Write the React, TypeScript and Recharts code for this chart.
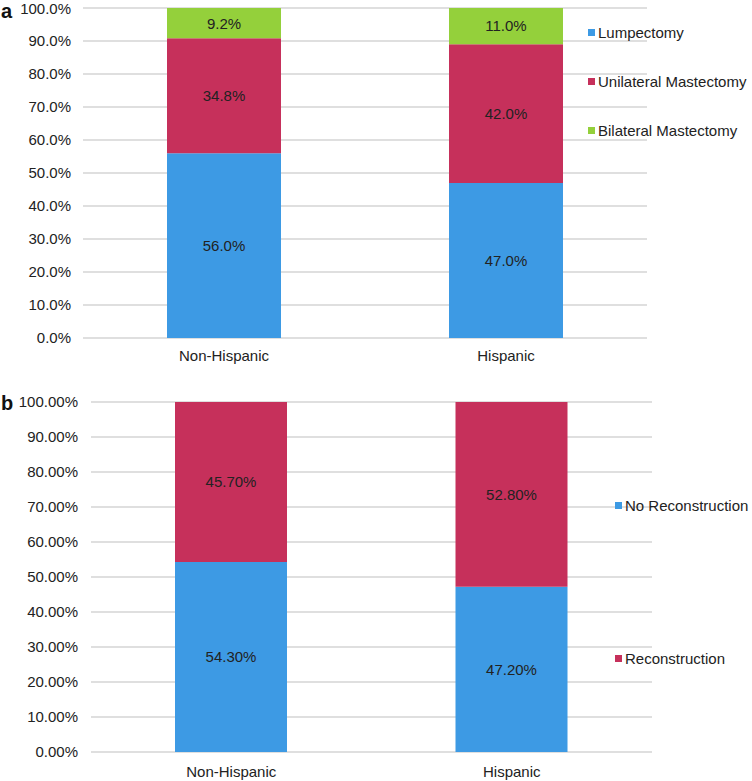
import { Bar, BarChart, CartesianGrid, LabelList, Legend, XAxis, YAxis } from "recharts";

const FONT = "'Liberation Sans', Arial, Helvetica, sans-serif";
const TEXT = "#222222";
const GRID = "#d4d4d4";

const BLUE = "#3d9ae4";
const CRIMSON = "#c6305b";
const GREEN = "#94d03b";

// panel a: surgery type
const groups = ["Non-Hispanic", "Hispanic"];
const lumpectomy = [56.0, 47.0];
const unilateral = [34.8, 42.0];
const bilateral = [9.2, 11.0];

// panel b: reconstruction
const noReconstruction = [54.3, 47.2];
const reconstruction = [45.7, 52.8];

const pctTicks = [0, 10, 20, 30, 40, 50, 60, 70, 80, 90, 100];

const seriesA = [
  { key: "lumpectomy", name: "Lumpectomy", color: BLUE },
  { key: "unilateral", name: "Unilateral Mastectomy", color: CRIMSON },
  { key: "bilateral", name: "Bilateral Mastectomy", color: GREEN },
];
const seriesB = [
  { key: "noRecon", name: "No Reconstruction", color: BLUE },
  { key: "recon", name: "Reconstruction", color: CRIMSON },
];

const dataA = groups.map((g, i) => ({
  group: g,
  lumpectomy: lumpectomy[i],
  unilateral: unilateral[i],
  bilateral: bilateral[i],
}));
const dataB = groups.map((g, i) => ({
  group: g,
  noRecon: noReconstruction[i],
  recon: reconstruction[i],
}));

type Item = { key: string; name: string; color: string };

function SideLegend({ items, gap }: { items: Item[]; gap: number }) {
  return (
    <div style={{ display: "flex", flexDirection: "column", rowGap: gap, fontFamily: FONT }}>
      {items.map((it) => (
        <div
          key={it.key}
          style={{ display: "flex", alignItems: "center", height: 18, fontSize: 15, color: TEXT, whiteSpace: "nowrap" }}
        >
          <span style={{ display: "inline-block", width: 7, height: 7, background: it.color, marginRight: 3 }} />
          {it.name}
        </div>
      ))}
    </div>
  );
}

function PanelLetter({ letter, top }: { letter: string; top: number }) {
  return (
    <div
      style={{
        position: "absolute",
        left: 1,
        top,
        fontFamily: FONT,
        fontWeight: "bold",
        fontSize: 20,
        lineHeight: "normal",
        color: "#111",
      }}
    >
      {letter}
    </div>
  );
}

const tickStyle = { fontSize: 15, fill: TEXT, fontFamily: FONT };

export default function App() {
  return (
    <div style={{ position: "absolute", left: 0, top: 0, width: 752, height: 781, background: "#fff" }}>
      <div style={{ position: "absolute", left: 0, top: 0 }}>
        <BarChart
          width={752}
          height={380}
          data={dataA}
          margin={{ top: 8, right: 105, left: 0, bottom: 0 }}
        >
          <CartesianGrid stroke={GRID} strokeWidth={1.6} vertical={false} />
          <XAxis
            dataKey="group"
            height={42}
            tickLine={false}
            axisLine={false}
            tickSize={0}
            tickMargin={12}
            tick={tickStyle}
          />
          <YAxis
            width={83}
            domain={[0, 100]}
            ticks={pctTicks}
            tickLine={false}
            axisLine={false}
            tickSize={0}
            tickMargin={12}
            tick={tickStyle}
            tickFormatter={(v: number) => `${v.toFixed(1)}%`}
          />
          {seriesA.map((s) => (
            <Bar key={s.key} dataKey={s.key} name={s.name} stackId="a" fill={s.color} barSize={114} isAnimationActive={false}>
              <LabelList
                dataKey={s.key}
                position="center"
                fill={TEXT}
                fontSize={15}
                fontFamily={FONT}
                formatter={(v: any) => `${Number(v).toFixed(1)}%`}
              />
            </Bar>
          ))}
          <Legend
            layout="vertical"
            align="center"
            verticalAlign="middle"
            wrapperStyle={{ left: 588, top: 23, width: "auto" }}
            content={() => <SideLegend items={seriesA} gap={31} />}
          />
        </BarChart>
      </div>

      <div style={{ position: "absolute", left: 0, top: 380 }}>
        <BarChart
          width={752}
          height={401}
          data={dataB}
          margin={{ top: 22, right: 100, left: 0, bottom: 0 }}
        >
          <CartesianGrid stroke={GRID} strokeWidth={1.6} vertical={false} />
          <XAxis
            dataKey="group"
            height={29}
            tickLine={false}
            axisLine={false}
            tickSize={0}
            tickMargin={14}
            tick={tickStyle}
          />
          <YAxis
            width={91}
            domain={[0, 100]}
            ticks={pctTicks}
            tickLine={false}
            axisLine={false}
            tickSize={0}
            tickMargin={13}
            tick={tickStyle}
            tickFormatter={(v: number) => `${v.toFixed(2)}%`}
          />
          {seriesB.map((s) => (
            <Bar key={s.key} dataKey={s.key} name={s.name} stackId="b" fill={s.color} barSize={112} isAnimationActive={false}>
              <LabelList
                dataKey={s.key}
                position="center"
                fill={TEXT}
                fontSize={15}
                fontFamily={FONT}
                formatter={(v: any) => `${Number(v).toFixed(2)}%`}
              />
            </Bar>
          ))}
          <Legend
            layout="vertical"
            align="center"
            verticalAlign="middle"
            wrapperStyle={{ left: 615, top: 116, width: "auto" }}
            content={() => <SideLegend items={seriesB} gap={135} />}
          />
        </BarChart>
      </div>

      <PanelLetter letter="a" top={0} />
      <PanelLetter letter="b" top={392} />
    </div>
  );
}
